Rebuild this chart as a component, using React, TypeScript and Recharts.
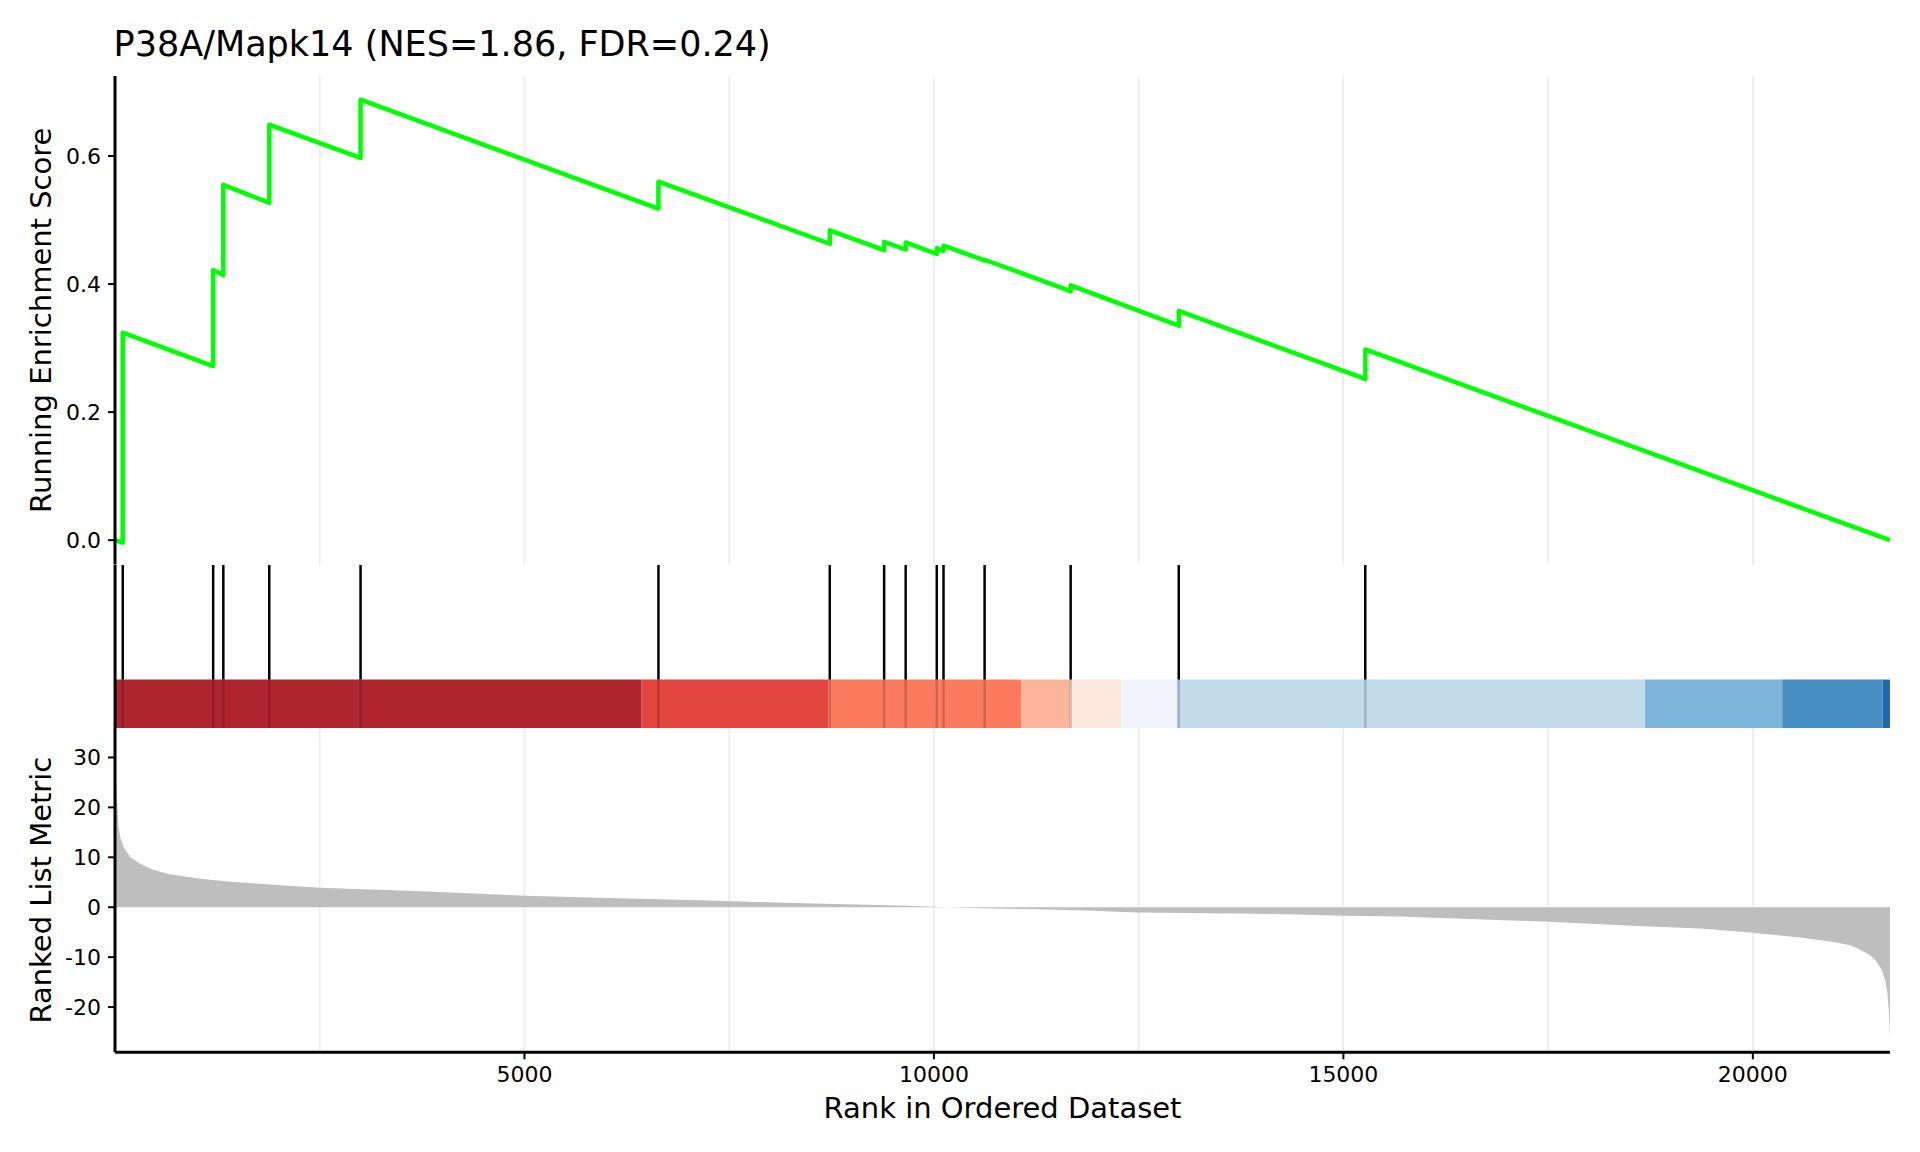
import React from "react";
import {
  LineChart,
  Line,
  AreaChart,
  Area,
  ComposedChart,
  XAxis,
  YAxis,
  CartesianGrid,
  ReferenceLine,
  ReferenceArea,
  Label,
} from "recharts";

// ---------- data ----------
const N = 21675; // genes in ranked list

const hitRanks = [94, 1198, 1322, 1883, 2998, 6636, 8728, 9392, 9655, 10035, 10117, 10619, 11670, 12990, 15268];
const esBefore = [-0.004, 0.272, 0.414, 0.527, 0.597, 0.518, 0.463, 0.453, 0.454, 0.447, 0.452, 0.437, 0.389, 0.335, 0.252];
const esAfter = [0.324, 0.422, 0.555, 0.649, 0.688, 0.56, 0.484, 0.466, 0.465, 0.456, 0.46, 0.438, 0.398, 0.358, 0.298];

const metricRanks = [
  0, 10, 24, 32, 44, 65, 105, 187, 309, 431, 635, 1042, 1448, 1855, 2262, 2505, 3582, 5003, 6386, 7146, 7964,
  8538, 9075, 9661, 10003, 10577, 11371, 11932, 12482, 13959, 14447, 15000, 15693, 17503, 18736, 19357, 19967,
  20578, 20985, 21189, 21311, 21433, 21515, 21576, 21616, 21644, 21661, 21675,
];
const metricValues = [
  33, 26, 22, 19.4, 16, 14, 12, 10, 8.7, 7.7, 6.7, 5.7, 5.07, 4.6, 4.15, 3.9, 3.3, 2.3, 1.68, 1.4, 1.0,
  0.73, 0.53, 0.27, 0.07, -0.2, -0.47, -0.73, -1.07, -1.33, -1.47, -1.7, -1.87, -2.9, -3.85, -4.27, -5.07,
  -6.07, -6.95, -7.6, -8.5, -9.6, -10.95, -12.6, -14.6, -17.3, -20.6, -26,
];

const colorBounds = [0, 6430, 8708, 11067, 11662, 12284, 12966, 18684, 20360, 21586, 21675];
const colorBarColors = [
  "#af262e", "#e2443e", "#fc7a5e", "#fcb59a", "#fee7dc", "#f0f3fe", "#c3dae8", "#7bb5d9", "#468dc2", "#2365ab",
];

const gridTicks = [2500, 5000, 7500, 10000, 12500, 15000, 17500, 20000];
const xLabelTicks = [5000, 10000, 15000, 20000];
const esTicks = [0, 0.2, 0.4, 0.6];
const metricTicks = [-20, -10, 0, 10, 20, 30];

const titleText = "P38A/Mapk14 (NES=1.86, FDR=0.24)";

// ---------- derived tables ----------
const esData: { x: number; y: number }[] = [{ x: 0, y: 0 }];
hitRanks.forEach((r, i) => {
  esData.push({ x: r, y: esBefore[i] });
  esData.push({ x: r, y: esAfter[i] });
});
esData.push({ x: N, y: 0 });

const metricData = metricRanks.map((r, i) => ({ x: r, v: metricValues[i] }));
const hitData = hitRanks.map((r) => ({ x: r, y: 1 }));

// ---------- styles ----------
const FONT = "DejaVu Sans";
const W = 1920;
const YW = 115;
const RIGHT = 30;
const BAR_TOP = 0.298;
const tickStyle = { fontSize: 22, fill: "#000", fontFamily: FONT };
const axisLineStyle = { stroke: "#000", strokeWidth: 3 };
const tickLineStyle = { stroke: "#000", strokeWidth: 2 };
const GRID = "#ebebeb";
const emptyTick = () => <g />;

const vLabel = (text: string) => (props: any) => {
  const vb = props.viewBox || { x: 0, y: 0, width: 0, height: 0 };
  const cx = vb.x + 41;
  const cy = vb.y + vb.height / 2;
  return (
    <text
      x={cx}
      y={cy}
      transform={`rotate(-90 ${cx} ${cy})`}
      textAnchor="middle"
      dominantBaseline="central"
      fontSize={29}
      fontFamily={FONT}
      fill="#000"
    >
      {text}
    </text>
  );
};

export default function App() {
  return (
    <div style={{ position: "absolute", left: 0, top: 0, width: 1920, height: 1152, background: "#fff" }}>
      <div
        style={{
          position: "absolute",
          left: 113.6,
          top: 27,
          fontSize: 35,
          lineHeight: "35px",
          fontFamily: FONT,
          color: "#000",
          whiteSpace: "nowrap",
        }}
      >
        {titleText}
      </div>

      {/* Running enrichment score */}
      <div style={{ position: "absolute", left: 0, top: 0 }}>
        <LineChart width={W} height={564.5} data={esData} margin={{ top: 76, right: RIGHT, bottom: 0, left: 0 }}>
          <CartesianGrid horizontal={false} syncWithTicks stroke={GRID} strokeWidth={1.6} />
          <XAxis
            dataKey="x"
            type="number"
            domain={[0, N]}
            ticks={gridTicks}
            interval={0}
            allowDataOverflow
            tick={emptyTick}
            tickLine={false}
            axisLine={false}
            height={0}
          />
          <YAxis
            type="number"
            domain={[-0.038, 0.725]}
            ticks={esTicks}
            allowDataOverflow
            width={YW}
            tick={tickStyle}
            tickFormatter={(v: number) => v.toFixed(1)}
            tickSize={7}
            tickMargin={7}
            tickLine={tickLineStyle}
            axisLine={axisLineStyle}
          >
            <Label content={vLabel("Running Enrichment Score")} />
          </YAxis>
          <Line
            type="linear"
            dataKey="y"
            stroke="#00ff00"
            strokeWidth={4.5}
            strokeLinejoin="round"
            dot={false}
            activeDot={false}
            isAnimationActive={false}
          />
        </LineChart>
      </div>

      {/* hits + colour bar */}
      <div style={{ position: "absolute", left: 0, top: 564.5 }}>
        <ComposedChart width={W} height={163.2} data={hitData} margin={{ top: 0, right: RIGHT, bottom: 0, left: 0 }}>
          <XAxis dataKey="x" type="number" domain={[0, N]} allowDataOverflow hide />
          <YAxis
            type="number"
            domain={[0, 1]}
            allowDataOverflow
            width={YW}
            ticks={[]}
            tick={false}
            tickLine={false}
            axisLine={axisLineStyle}
          />
          {colorBarColors.map((c, i) => (
            <ReferenceArea
              key={"cb" + i}
              x1={colorBounds[i]}
              x2={colorBounds[i + 1]}
              y1={0}
              y2={BAR_TOP}
              fill={c}
              fillOpacity={1}
              stroke="none"
            />
          ))}
          {hitRanks.map((r) => (
            <ReferenceLine
              key={"h" + r}
              segment={[
                { x: r, y: BAR_TOP },
                { x: r, y: 1 },
              ]}
              stroke="#000"
              strokeWidth={2.5}
            />
          ))}
          {hitRanks.map((r) => (
            <ReferenceLine
              key={"hd" + r}
              segment={[
                { x: r, y: 0 },
                { x: r, y: BAR_TOP },
              ]}
              stroke="#000"
              strokeOpacity={0.18}
              strokeWidth={2.5}
            />
          ))}
        </ComposedChart>
      </div>

      {/* ranked list metric */}
      <div style={{ position: "absolute", left: 0, top: 727.7 }}>
        <AreaChart width={W} height={424.3} data={metricData} margin={{ top: 0, right: RIGHT, bottom: 0, left: 0 }}>
          <CartesianGrid horizontal={false} syncWithTicks stroke={GRID} strokeWidth={1.6} xAxisId="grid" />
          <XAxis
            xAxisId="main"
            dataKey="x"
            type="number"
            domain={[0, N]}
            ticks={xLabelTicks}
            interval={0}
            allowDataOverflow
            height={100}
            tick={tickStyle}
            tickSize={7}
            tickMargin={7}
            tickLine={tickLineStyle}
            axisLine={axisLineStyle}
          >
            <Label
              value="Rank in Ordered Dataset"
              position="insideBottom"
              offset={34}
              fontSize={29}
              fontFamily={FONT}
              fill="#000"
            />
          </XAxis>
          <XAxis
            xAxisId="grid"
            dataKey="x"
            type="number"
            domain={[0, N]}
            ticks={gridTicks}
            interval={0}
            allowDataOverflow
            height={0}
            tick={emptyTick}
            tickLine={false}
            axisLine={false}
          />
          <YAxis
            type="number"
            domain={[-29.06, 35.9]}
            ticks={metricTicks}
            allowDataOverflow
            width={YW}
            tick={tickStyle}
            tickSize={7}
            tickMargin={7}
            tickLine={tickLineStyle}
            axisLine={axisLineStyle}
          >
            <Label content={vLabel("Ranked List Metric")} />
          </YAxis>
          <Area
            xAxisId="main"
            type="linear"
            dataKey="v"
            baseValue={0}
            fill="#bebebe"
            fillOpacity={1}
            stroke="none"
            dot={false}
            activeDot={false}
            isAnimationActive={false}
          />
        </AreaChart>
      </div>
    </div>
  );
}
